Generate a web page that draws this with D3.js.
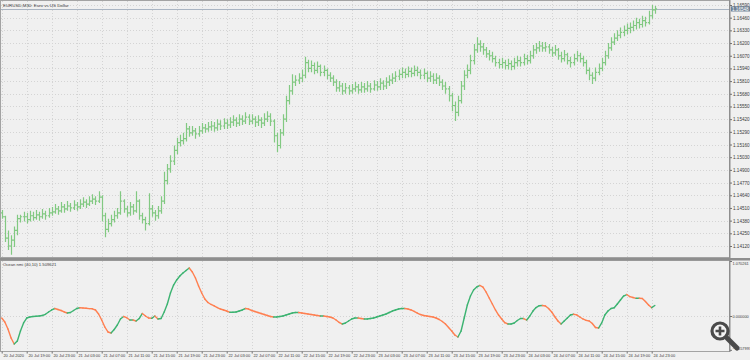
<!DOCTYPE html>
<html><head><meta charset="utf-8">
<script src="https://cdn.jsdelivr.net/npm/d3@7"></script>
<style>
body{margin:0;background:#f0f0f0}
text{font-family:"Liberation Sans",Arial,sans-serif}
</style></head>
<body><svg id="c" width="750" height="360"></svg>
<script>
const chartTitle = "EURUSD,M30: Euro vs US Dollar";
const oscTitle = "Ocean nmi (40,10) 1.509621";
const priceTicks = [1.16590,1.16460,1.16330,1.16200,1.16070,1.15940,1.15810,1.15680,1.15550,1.15420,1.15290,1.15160,1.15030,1.14900,1.14770,1.14640,1.14510,1.14380,1.14250,1.14120];
const timeLabels = ["20 Jul 2020","20 Jul 19:00","20 Jul 23:00","21 Jul 03:00","21 Jul 07:00","21 Jul 11:00","21 Jul 15:00","21 Jul 19:00","21 Jul 23:00","22 Jul 03:00","22 Jul 07:00","22 Jul 11:00","22 Jul 15:00","22 Jul 19:00","22 Jul 23:00","23 Jul 03:00","23 Jul 07:00","23 Jul 11:00","23 Jul 15:00","23 Jul 19:00","23 Jul 23:00","24 Jul 03:00","24 Jul 07:00","24 Jul 11:00","24 Jul 15:00","24 Jul 19:00","24 Jul 23:00"];
const oscTicks = [1.070261, 0.000000, -0.657997];
const lastPriceLabel = "1.16548";

const opens = [1.1446,1.1442,1.1420,1.1412,1.1418,1.1428,1.1440,1.1442,1.1442,1.1439,
1.1443,1.1441,1.1444,1.1442,1.1445,1.1443,1.1446,1.1447,1.1450,1.1448,
1.1452,1.1450,1.1453,1.1451,1.1454,1.1452,1.1455,1.1457,1.1455,1.1458,
1.1460,1.1458,1.1462,1.1443,1.1429,1.1435,1.1439,1.1443,1.1446,1.1458,
1.1450,1.1446,1.1452,1.1448,1.1458,1.1443,1.1439,1.1435,1.1450,1.1446,
1.1443,1.1448,1.1458,1.1479,1.1491,1.1499,1.1510,1.1518,1.1520,1.1522,
1.1532,1.1528,1.1530,1.1527,1.1530,1.1533,1.1532,1.1534,1.1535,1.1533,
1.1537,1.1535,1.1538,1.1536,1.1539,1.1541,1.1538,1.1542,1.1540,1.1544,
1.1540,1.1542,1.1539,1.1541,1.1538,1.1542,1.1545,1.1540,1.1525,1.1515,
1.1528,1.1542,1.1561,1.1571,1.1580,1.1582,1.1584,1.1587,1.1600,1.1594,
1.1597,1.1592,1.1596,1.1590,1.1592,1.1587,1.1584,1.1580,1.1574,1.1576,
1.1571,1.1574,1.1571,1.1573,1.1575,1.1572,1.1575,1.1573,1.1576,1.1573,
1.1577,1.1575,1.1579,1.1576,1.1580,1.1582,1.1584,1.1586,1.1588,1.1590,
1.1588,1.1591,1.1589,1.1592,1.1590,1.1587,1.1589,1.1584,1.1586,1.1582,
1.1584,1.1580,1.1576,1.1573,1.1566,1.1556,1.1549,1.1561,1.1576,1.1587,
1.1592,1.1602,1.1613,1.1619,1.1616,1.1613,1.1609,1.1607,1.1604,1.1600,
1.1598,1.1600,1.1597,1.1599,1.1596,1.1600,1.1602,1.1600,1.1604,1.1602,
1.1607,1.1613,1.1615,1.1617,1.1615,1.1616,1.1613,1.1610,1.1613,1.1607,
1.1604,1.1608,1.1602,1.1600,1.1604,1.1607,1.1604,1.1600,1.1592,1.1587,
1.1584,1.1590,1.1594,1.1600,1.1607,1.1615,1.1621,1.1625,1.1628,1.1631,
1.1633,1.1635,1.1636,1.1638,1.1641,1.1639,1.1643,1.1641,1.1648,1.1654];
const highs = [1.1449,1.1443,1.1428,1.1423,1.1432,1.1444,1.1444,1.1447,1.1446,1.1448,
1.1447,1.1449,1.1447,1.1450,1.1448,1.1451,1.1452,1.1455,1.1453,1.1457,
1.1455,1.1458,1.1456,1.1459,1.1457,1.1460,1.1462,1.1460,1.1463,1.1465,
1.1463,1.1468,1.1464,1.1446,1.1440,1.1444,1.1448,1.1451,1.1468,1.1460,
1.1453,1.1457,1.1455,1.1468,1.1460,1.1446,1.1442,1.1466,1.1454,1.1449,
1.1453,1.1463,1.1488,1.1496,1.1505,1.1515,1.1523,1.1526,1.1528,1.1538,
1.1535,1.1535,1.1533,1.1535,1.1538,1.1537,1.1539,1.1540,1.1539,1.1542,
1.1541,1.1543,1.1542,1.1544,1.1546,1.1544,1.1547,1.1546,1.1549,1.1547,
1.1547,1.1545,1.1546,1.1544,1.1548,1.1550,1.1548,1.1542,1.1528,1.1532,
1.1547,1.1566,1.1577,1.1588,1.1587,1.1589,1.1593,1.1606,1.1603,1.1602,
1.1600,1.1601,1.1598,1.1597,1.1594,1.1590,1.1587,1.1583,1.1581,1.1579,
1.1579,1.1577,1.1578,1.1580,1.1578,1.1580,1.1579,1.1581,1.1579,1.1582,
1.1581,1.1584,1.1582,1.1585,1.1587,1.1589,1.1591,1.1593,1.1595,1.1594,
1.1596,1.1595,1.1597,1.1596,1.1593,1.1594,1.1591,1.1591,1.1589,1.1589,
1.1587,1.1583,1.1580,1.1576,1.1569,1.1560,1.1566,1.1581,1.1592,1.1598,
1.1608,1.1619,1.1626,1.1623,1.1620,1.1616,1.1613,1.1611,1.1607,1.1604,
1.1605,1.1603,1.1604,1.1602,1.1605,1.1607,1.1606,1.1609,1.1608,1.1612,
1.1618,1.1620,1.1622,1.1621,1.1621,1.1619,1.1616,1.1618,1.1615,1.1611,
1.1613,1.1610,1.1606,1.1609,1.1612,1.1610,1.1607,1.1603,1.1595,1.1590,
1.1595,1.1599,1.1605,1.1612,1.1620,1.1626,1.1630,1.1633,1.1636,1.1638,
1.1640,1.1641,1.1643,1.1646,1.1645,1.1648,1.1647,1.1653,1.1659,1.1658];
const lows = [1.1440,1.1416,1.1408,1.1403,1.1411,1.1423,1.1436,1.1437,1.1435,1.1437,
1.1438,1.1439,1.1438,1.1440,1.1439,1.1441,1.1443,1.1445,1.1444,1.1446,
1.1446,1.1448,1.1447,1.1449,1.1448,1.1450,1.1452,1.1451,1.1453,1.1455,
1.1454,1.1456,1.1437,1.1421,1.1426,1.1432,1.1436,1.1440,1.1444,1.1446,
1.1442,1.1443,1.1444,1.1446,1.1439,1.1435,1.1428,1.1433,1.1442,1.1438,
1.1440,1.1445,1.1455,1.1475,1.1487,1.1495,1.1506,1.1514,1.1516,1.1519,
1.1524,1.1525,1.1522,1.1524,1.1527,1.1528,1.1529,1.1530,1.1529,1.1530,
1.1531,1.1532,1.1532,1.1533,1.1535,1.1534,1.1535,1.1536,1.1537,1.1536,
1.1537,1.1534,1.1535,1.1533,1.1535,1.1539,1.1535,1.1518,1.1508,1.1512,
1.1525,1.1539,1.1557,1.1567,1.1576,1.1578,1.1580,1.1584,1.1590,1.1590,
1.1588,1.1589,1.1586,1.1586,1.1583,1.1580,1.1576,1.1570,1.1570,1.1567,
1.1568,1.1567,1.1568,1.1570,1.1568,1.1569,1.1569,1.1570,1.1569,1.1571,
1.1571,1.1572,1.1572,1.1573,1.1576,1.1578,1.1580,1.1582,1.1584,1.1584,
1.1585,1.1585,1.1586,1.1586,1.1583,1.1583,1.1580,1.1580,1.1578,1.1578,
1.1576,1.1572,1.1568,1.1560,1.1550,1.1540,1.1545,1.1558,1.1572,1.1584,
1.1588,1.1598,1.1610,1.1611,1.1608,1.1605,1.1602,1.1600,1.1596,1.1594,
1.1594,1.1593,1.1593,1.1592,1.1593,1.1596,1.1596,1.1597,1.1598,1.1599,
1.1604,1.1609,1.1611,1.1611,1.1611,1.1609,1.1606,1.1607,1.1603,1.1600,
1.1601,1.1598,1.1595,1.1597,1.1601,1.1600,1.1596,1.1588,1.1582,1.1578,
1.1581,1.1587,1.1591,1.1597,1.1604,1.1612,1.1618,1.1622,1.1625,1.1627,
1.1629,1.1630,1.1632,1.1634,1.1635,1.1636,1.1637,1.1639,1.1645,1.1650];
const closes = [1.1442,1.1420,1.1412,1.1418,1.1428,1.1440,1.1442,1.1442,1.1439,1.1443,
1.1441,1.1444,1.1442,1.1445,1.1443,1.1446,1.1447,1.1450,1.1448,1.1452,
1.1450,1.1453,1.1451,1.1454,1.1452,1.1455,1.1457,1.1455,1.1458,1.1460,
1.1458,1.1462,1.1443,1.1429,1.1435,1.1439,1.1443,1.1446,1.1458,1.1450,
1.1446,1.1452,1.1448,1.1458,1.1443,1.1439,1.1435,1.1450,1.1446,1.1443,
1.1448,1.1458,1.1479,1.1491,1.1499,1.1510,1.1518,1.1520,1.1522,1.1532,
1.1528,1.1530,1.1527,1.1530,1.1533,1.1532,1.1534,1.1535,1.1533,1.1537,
1.1535,1.1538,1.1536,1.1539,1.1541,1.1538,1.1542,1.1540,1.1544,1.1540,
1.1542,1.1539,1.1541,1.1538,1.1542,1.1545,1.1540,1.1525,1.1515,1.1528,
1.1542,1.1561,1.1571,1.1580,1.1582,1.1584,1.1587,1.1600,1.1594,1.1597,
1.1592,1.1596,1.1590,1.1592,1.1587,1.1584,1.1580,1.1574,1.1576,1.1571,
1.1574,1.1571,1.1573,1.1575,1.1572,1.1575,1.1573,1.1576,1.1573,1.1577,
1.1575,1.1579,1.1576,1.1580,1.1582,1.1584,1.1586,1.1588,1.1590,1.1588,
1.1591,1.1589,1.1592,1.1590,1.1587,1.1589,1.1584,1.1586,1.1582,1.1584,
1.1580,1.1576,1.1573,1.1566,1.1556,1.1549,1.1561,1.1576,1.1587,1.1592,
1.1602,1.1613,1.1619,1.1616,1.1613,1.1609,1.1607,1.1604,1.1600,1.1598,
1.1600,1.1597,1.1599,1.1596,1.1600,1.1602,1.1600,1.1604,1.1602,1.1607,
1.1613,1.1615,1.1617,1.1615,1.1616,1.1613,1.1610,1.1613,1.1607,1.1604,
1.1608,1.1602,1.1600,1.1604,1.1607,1.1604,1.1600,1.1592,1.1587,1.1584,
1.1590,1.1594,1.1600,1.1607,1.1615,1.1621,1.1625,1.1628,1.1631,1.1633,
1.1635,1.1636,1.1638,1.1641,1.1639,1.1643,1.1641,1.1648,1.1654,1.1655];
const oscValues = [-0.039,-0.117,-0.253,-0.428,-0.545,-0.486,-0.292,-0.136,-0.039,-0.019,
-0.010,-0.004,0.000,0.010,0.033,0.078,0.117,0.146,0.126,0.107,
0.078,0.058,0.068,0.107,0.146,0.160,0.156,0.150,0.144,0.140,
0.117,0.039,-0.078,-0.214,-0.311,-0.331,-0.263,-0.175,-0.058,-0.010,
-0.033,-0.078,-0.078,-0.097,-0.049,0.049,0.000,-0.039,-0.045,0.000,
-0.058,-0.049,0.078,0.234,0.448,0.603,0.701,0.778,0.837,0.885,
0.934,0.856,0.739,0.584,0.448,0.331,0.263,0.224,0.195,0.165,
0.136,0.117,0.097,0.072,0.072,0.078,0.097,0.117,0.146,0.136,
0.107,0.088,0.068,0.049,0.029,0.010,-0.010,-0.019,-0.019,-0.010,
0.000,0.019,0.039,0.058,0.068,0.068,0.058,0.049,0.039,0.029,
0.019,0.010,0.000,0.000,-0.010,-0.019,-0.039,-0.078,-0.126,-0.156,
-0.136,-0.097,-0.058,-0.039,-0.039,-0.049,-0.058,-0.058,-0.049,-0.039,
-0.019,0.000,0.019,0.039,0.068,0.097,0.117,0.136,0.146,0.146,
0.136,0.117,0.088,0.058,0.029,0.010,0.000,-0.010,-0.019,-0.039,
-0.068,-0.107,-0.156,-0.224,-0.292,-0.370,-0.409,-0.292,-0.039,0.214,
0.389,0.506,0.564,0.594,0.564,0.467,0.350,0.234,0.117,0.019,
-0.058,-0.130,-0.156,-0.156,-0.136,-0.088,-0.049,-0.049,-0.078,0.000,
0.097,0.165,0.200,0.204,0.195,0.146,0.078,-0.014,-0.097,-0.156,
-0.097,-0.039,0.019,0.033,0.023,-0.019,-0.058,-0.084,-0.097,-0.146,
-0.224,-0.234,-0.136,0.019,0.097,0.146,0.160,0.234,0.311,0.389,
0.418,0.376,0.360,0.344,0.344,0.341,0.282,0.214,0.162,0.204];

// ---------- layout ----------
const W = 750, H = 360;
const plotR = 729;
const main = {top: 1, bottom: 257};
const osc = {top: 261, bottom: 351};
const BG = "#f0f0f0", FRAME = "#a3a3a3", GRID = "#d4d4d4", TXT = "#3c3c3c";
const UP = "#3cb371", DOWN = "#ff7f50", BAR = "#82c982";

const svg = d3.select("#c");
svg.append("rect").attr("width", W).attr("height", H).attr("fill", BG);

const n = closes.length;
const x = d3.scaleLinear().domain([0, n - 1]).range([1.7, 1.7 + 3.125 * (n - 1)]);
const y = d3.scaleLinear().domain([1.14120, 1.16590]).range([246, 5]);
const yo = d3.scaleLinear().domain([0, 1.070261]).range([316, 261]);
const labelBars = d3.range(0, n, 8);

// grids
const gGrid = svg.append("g").attr("stroke", GRID).attr("stroke-dasharray", "1,2").attr("shape-rendering", "crispEdges");
gGrid.selectAll("line.h").data(priceTicks).join("line")
  .attr("x1", 1).attr("x2", plotR)
  .attr("y1", d => Math.round(y(d)) + 0.5).attr("y2", d => Math.round(y(d)) + 0.5);
gGrid.selectAll("line.v").data(labelBars).join("line")
  .attr("x1", d => Math.round(x(d)) + 0.5).attr("x2", d => Math.round(x(d)) + 0.5)
  .attr("y1", main.top).attr("y2", main.bottom);
gGrid.selectAll("line.v2").data(labelBars).join("line")
  .attr("x1", d => Math.round(x(d)) + 0.5).attr("x2", d => Math.round(x(d)) + 0.5)
  .attr("y1", osc.top).attr("y2", osc.bottom);
gGrid.selectAll("line.o").data([0]).join("line")
  .attr("x1", 1).attr("x2", plotR)
  .attr("y1", d => Math.round(yo(d)) + 0.5).attr("y2", d => Math.round(yo(d)) + 0.5);

// current price line
svg.append("line").attr("x1", 1).attr("x2", plotR)
  .attr("y1", Math.round(y(closes[n-1])) + 0.5).attr("y2", Math.round(y(closes[n-1])) + 0.5)
  .attr("stroke", "#a9b4c2").attr("stroke-width", 1).attr("shape-rendering", "crispEdges");

// OHLC bars
const bars = svg.append("g").attr("stroke", BAR).attr("stroke-width", 1.2).attr("fill", "none");
bars.selectAll("path").data(d3.range(n)).join("path")
  .attr("d", i => {
    const cx = Math.round(x(i)) + 0.5;
    return `M${cx},${y(highs[i])}V${y(lows[i])}M${cx-1.6},${y(opens[i])}H${cx}M${cx},${y(closes[i])}H${cx+1.6}`;
  });

// oscillator line, coloured by direction
const og = svg.append("g").attr("fill", "none").attr("stroke-width", 1.4).attr("stroke-linecap", "round");
og.selectAll("line").data(d3.range(1, n)).join("line")
  .attr("x1", i => x(i - 1)).attr("y1", i => yo(oscValues[i - 1]))
  .attr("x2", i => x(i)).attr("y2", i => yo(oscValues[i]))
  .attr("stroke", i => oscValues[i] >= oscValues[i - 1] ? UP : DOWN);

// frames
const fr = svg.append("g").attr("fill", "none").attr("stroke", FRAME).attr("shape-rendering", "crispEdges");
fr.append("rect").attr("x", 0.5).attr("y", 0.5).attr("width", plotR).attr("height", main.bottom);
fr.append("rect").attr("x", 0.5).attr("y", osc.top - 0.5).attr("width", plotR).attr("height", osc.bottom - osc.top + 0.5);
svg.append("rect").attr("x", 0).attr("y", main.bottom + 1).attr("width", W).attr("height", 2.5).attr("fill", "#8e8e8e");
svg.append("rect").attr("x", plotR).attr("y", 0).attr("width", 1.5).attr("height", osc.bottom + 1).attr("fill", "#8e8e8e");

// price axis
const ya = svg.append("g").attr("transform", `translate(${plotR + 1},0)`)
  .call(d3.axisRight(y).tickValues(priceTicks).tickFormat(d3.format(".5f")).tickSize(2).tickPadding(1));
ya.select(".domain").remove();
ya.selectAll("line").attr("stroke", "#707070");
ya.selectAll("text").attr("font-size", 4.6).attr("fill", TXT).attr("font-family", "Liberation Sans, Arial, sans-serif");

// last price marker
const ly = y(closes[n-1]);
svg.append("rect").attr("x", plotR + 2).attr("y", ly - 2.6).attr("width", 19).attr("height", 5.2).attr("fill", "#6f8296");
svg.append("text").attr("x", plotR + 3).attr("y", ly + 1.6).attr("font-size", 4.6).attr("fill", "#fff").text(lastPriceLabel);

// oscillator axis
const oa = svg.append("g").attr("transform", `translate(${plotR + 1},0)`)
  .call(d3.axisRight(yo).tickValues(oscTicks).tickFormat(d3.format(".6f")).tickSize(2).tickPadding(0.5));
oa.select(".domain").remove();
oa.selectAll("line").attr("stroke", "#707070");
oa.selectAll("text").attr("font-size", 3.9).attr("fill", TXT).attr("font-family", "Liberation Sans, Arial, sans-serif")
  .attr("dy", (d, i) => i === 0 ? "0.9em" : (i === 2 ? "-0.2em" : "0.32em"));

// time axis
const xa = svg.append("g").attr("transform", `translate(0,${osc.bottom + 0.5})`)
  .call(d3.axisBottom(x).tickValues(labelBars).tickFormat((d, i) => timeLabels[i]).tickSize(2).tickPadding(1));
xa.select(".domain").remove();
xa.selectAll("line").attr("stroke", "#707070");
xa.selectAll("text").attr("font-size", 4.0).attr("fill", TXT).attr("text-anchor", "start").attr("dx", "0.3em")
  .attr("font-family", "Liberation Sans, Arial, sans-serif");

// titles
svg.append("text").attr("x", 3).attr("y", 6.5).attr("font-size", 4.4).attr("fill", TXT).text(chartTitle);
svg.append("text").attr("x", 3).attr("y", osc.top + 5).attr("font-size", 4.2).attr("fill", TXT).text(oscTitle);

// zoom magnifier overlay
const mg = svg.append("g");
mg.append("line").attr("x1", 727).attr("y1", 338).attr("x2", 737).attr("y2", 348)
  .attr("stroke", "#4a4a4a").attr("stroke-width", 5).attr("stroke-linecap", "round");
mg.append("circle").attr("cx", 720).attr("cy", 331).attr("r", 8).attr("fill", "#f4f4f4").attr("stroke", "#4a4a4a").attr("stroke-width", 3.2);
mg.append("path").attr("d", "M715.5,331H724.5M720,326.5V335.5").attr("stroke", "#4a4a4a").attr("stroke-width", 2.6);
</script>
</body></html>
